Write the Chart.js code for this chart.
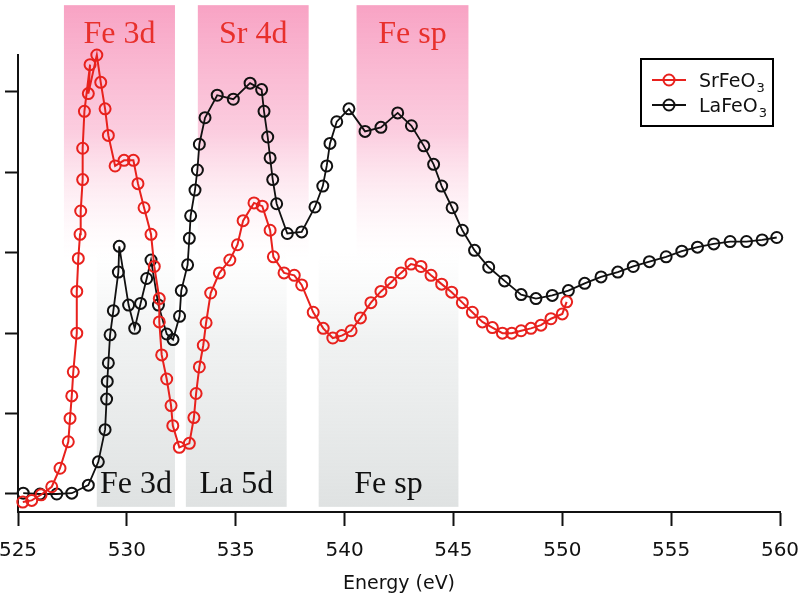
<!DOCTYPE html>
<html>
<head>
<meta charset="utf-8">
<script src="https://cdn.jsdelivr.net/npm/chart.js@4"></script>
<style>
  html, body { margin: 0; padding: 0; background: #fff; }
</style>
</head>
<body>
<canvas id="xas" width="802" height="596"></canvas>
<script>
// O K-edge spectra, energy (eV) vs intensity (arb. units)
const SR_E = [525.22, 525.63, 526.06, 526.55, 526.93, 527.31, 527.39, 527.47, 527.54, 527.70,
              527.70, 527.77, 527.85, 527.88, 527.97, 527.97, 528.05, 528.31, 528.23, 528.62,
              528.80, 529.00, 529.15, 529.46, 529.87, 530.30, 530.51, 530.79, 531.11, 531.26,
              531.49, 531.49, 531.60, 531.83, 532.03, 532.11, 532.41, 532.87, 533.08, 533.18,
              533.33, 533.51, 533.64, 533.85, 534.25, 534.73, 535.08, 535.34, 535.84, 536.22,
              536.58, 536.73, 537.22, 537.69, 538.03, 538.56, 539.02, 539.46, 539.87, 540.30,
              540.73, 541.21, 541.67, 542.13, 542.59, 543.05, 543.51, 543.97, 544.46, 544.92,
              545.41, 545.87, 546.33, 546.79, 547.25, 547.68, 548.11, 548.56, 549.02, 549.48,
              550.00, 550.20];
const SR_I = [-0.10, -0.08, -0.01, 0.09, 0.32, 0.65, 0.94, 1.22, 1.52, 2.00,
              2.52, 2.93, 3.23, 3.52, 3.91, 4.30, 4.76, 5.34, 4.98, 5.46,
              5.12, 4.79, 4.46, 4.08, 4.15, 4.15, 3.86, 3.56, 3.23, 2.83,
              2.43, 2.14, 1.73, 1.43, 1.10, 0.85, 0.58, 0.63, 0.95, 1.25,
              1.58, 1.85, 2.13, 2.50, 2.75, 2.91, 3.10, 3.40, 3.62, 3.58,
              3.28, 2.95, 2.75, 2.72, 2.60, 2.26, 2.06, 1.94, 1.97, 2.03,
              2.19, 2.38, 2.52, 2.63, 2.75, 2.86, 2.83, 2.72, 2.61, 2.51,
              2.38, 2.26, 2.14, 2.07, 2.00, 2.00, 2.03, 2.06, 2.10, 2.18,
              2.24, 2.39];

const LA_E = [525.24, 526.01, 526.78, 527.47, 528.23, 528.69, 529.00, 529.07, 529.10, 529.15,
              529.23, 529.38, 529.61, 529.65, 530.08, 530.36, 530.63, 530.91, 531.11, 531.45,
              531.83, 532.12, 532.42, 532.50, 532.79, 532.87, 532.93, 533.13, 533.24, 533.33,
              533.59, 534.15, 534.89, 535.66, 536.19, 536.30, 536.47, 536.58, 536.70, 536.88,
              537.37, 538.03, 538.64, 539.00, 539.18, 539.33, 539.64, 540.20, 540.94, 541.67,
              542.44, 543.07, 543.64, 544.09, 544.46, 544.94, 545.41, 545.97, 546.62, 547.35,
              548.11, 548.79, 549.54, 550.28, 551.03, 551.78, 552.55, 553.26, 554.00, 554.77,
              555.49, 556.21, 556.96, 557.71, 558.46, 559.18, 559.85];
const LA_I = [0.01, 0.00, 0.00, 0.01, 0.11, 0.40, 0.80, 1.18, 1.40, 1.63,
              1.98, 2.28, 2.76, 3.08, 2.35, 2.06, 2.37, 2.68, 2.91, 2.35,
              1.99, 1.92, 2.21, 2.53, 2.85, 3.18, 3.46, 3.78, 4.03, 4.35,
              4.68, 4.96, 4.91, 5.11, 5.03, 4.76, 4.44, 4.18, 3.91, 3.61,
              3.24, 3.26, 3.57, 3.83, 4.08, 4.36, 4.63, 4.79, 4.51, 4.56,
              4.74, 4.58, 4.33, 4.10, 3.83, 3.56, 3.28, 3.03, 2.82, 2.65,
              2.48, 2.43, 2.47, 2.53, 2.62, 2.70, 2.76, 2.83, 2.89, 2.95,
              3.02, 3.07, 3.11, 3.14, 3.14, 3.16, 3.19];

const X_TICKS = [525, 530, 535, 540, 545, 550, 555, 560];
const Y_TICKS = [0, 1, 2, 3, 4, 5];
const Y_MIN = -0.224, Y_MAX = 5.46;

// shaded orbital regions: [from, to] in eV
const TOP_BANDS = [[527.11, 532.21], [533.26, 538.35], [540.55, 545.69]];
const TOP_LABELS = ['Fe 3d', 'Sr 4d', 'Fe sp'];
const BOTTOM_BANDS = [[528.62, 532.21], [532.71, 537.34], [538.81, 545.23]];
const BOTTOM_LABELS = ['Fe 3d', 'La 5d', 'Fe sp'];
const TOP_BAND_Y = [6.08, 2.9];      // top edge, fade-out level
const BOTTOM_BAND_Y = [3.0, -0.16];  // fade-in level, bottom edge

const RED = '#e8211d';
const RED_TEXT = '#e8302c';
const SERIES = ['SrFeO', 'LaFeO'];

const bandsPlugin = {
    id: 'bands',
    beforeDraw(chart) {
        const {ctx, scales: {x, y}} = chart;
        ctx.save();
        const t0 = y.getPixelForValue(TOP_BAND_Y[0]), t1 = y.getPixelForValue(TOP_BAND_Y[1]);
        const pink = ctx.createLinearGradient(0, t0, 0, t1);
        pink.addColorStop(0, 'rgba(248,163,196,1)');
        pink.addColorStop(0.5, 'rgba(251,200,220,0.9)');
        pink.addColorStop(1, 'rgba(255,240,245,0)');
        ctx.fillStyle = pink;
        TOP_BANDS.forEach(([a, b]) => {
            const xa = x.getPixelForValue(a), xb = x.getPixelForValue(b);
            ctx.fillRect(xa, t0, xb - xa, t1 - t0);
        });
        const b0 = y.getPixelForValue(BOTTOM_BAND_Y[0]), b1 = y.getPixelForValue(BOTTOM_BAND_Y[1]);
        const grey = ctx.createLinearGradient(0, b0, 0, b1);
        grey.addColorStop(0, 'rgba(240,242,242,0)');
        grey.addColorStop(0.35, 'rgba(236,238,238,0.8)');
        grey.addColorStop(1, 'rgba(223,226,226,1)');
        ctx.fillStyle = grey;
        BOTTOM_BANDS.forEach(([a, b]) => {
            const xa = x.getPixelForValue(a), xb = x.getPixelForValue(b);
            ctx.fillRect(xa, b0, xb - xa, b1 - b0);
        });
        ctx.restore();
    },
    afterDraw(chart) {
        const {ctx, scales: {x, y}} = chart;
        ctx.save();
        ctx.font = '32px "Liberation Serif"';
        ctx.textAlign = 'center';
        ctx.textBaseline = 'alphabetic';
        const t0 = y.getPixelForValue(TOP_BAND_Y[0]);
        ctx.fillStyle = RED_TEXT;
        TOP_BANDS.forEach(([a, b], i) => {
            ctx.fillText(TOP_LABELS[i], (x.getPixelForValue(a) + x.getPixelForValue(b)) / 2, t0 + 38);
        });
        const b1 = y.getPixelForValue(BOTTOM_BAND_Y[1]);
        ctx.fillStyle = '#111';
        BOTTOM_BANDS.forEach(([a, b], i) => {
            ctx.fillText(BOTTOM_LABELS[i], (x.getPixelForValue(a) + x.getPixelForValue(b)) / 2, b1 - 14);
        });
        ctx.restore();
    }
};

// legend with subscript, top right
const legendPlugin = {
    id: 'subLegend',
    afterDraw(chart) {
        const {ctx} = chart;
        const left = 641, top = 59, w = 132, h = 67;
        ctx.save();
        ctx.fillStyle = '#fff';
        ctx.fillRect(left, top, w, h);
        ctx.lineWidth = 2;
        ctx.strokeStyle = '#000';
        ctx.strokeRect(left, top, w, h);
        chart.data.datasets.forEach((ds, i) => {
            const cy = top + 21 + i * 25;
            ctx.strokeStyle = ds.borderColor;
            ctx.lineWidth = ds.borderWidth;
            ctx.beginPath();
            ctx.moveTo(left + 11, cy);
            ctx.lineTo(left + 45, cy);
            ctx.stroke();
            ctx.lineWidth = ds.pointBorderWidth;
            ctx.beginPath();
            ctx.arc(left + 28, cy, ds.pointRadius, 0, Math.PI * 2);
            ctx.stroke();
            ctx.fillStyle = '#111';
            ctx.textBaseline = 'alphabetic';
            ctx.font = '19px "DejaVu Sans"';
            ctx.fillText(SERIES[i], left + 58, cy + 7);
            const wMain = ctx.measureText(SERIES[i]).width;
            ctx.font = '13px "DejaVu Sans"';
            ctx.fillText('3', left + 58 + wMain + 1, cy + 12);
        });
        ctx.restore();
    }
};

function series(es, is, color, width) {
    return {
        data: es.map((e, i) => ({x: e, y: is[i]})),
        borderColor: color,
        borderWidth: width,
        pointRadius: 5.5,
        pointBorderWidth: 2,
        pointBorderColor: color,
        pointBackgroundColor: 'rgba(0,0,0,0)',
        tension: 0,
        clip: false
    };
}

new Chart(document.getElementById('xas'), {
    type: 'line',
    data: {
        datasets: [
            series(SR_E, SR_I, RED, 2),
            series(LA_E, LA_I, '#111', 1.8)
        ]
    },
    options: {
        responsive: false,
        animation: false,
        layout: {padding: {left: 5, top: 55, right: 22, bottom: 0}},
        plugins: {legend: {display: false}, tooltip: {enabled: false}},
        scales: {
            x: {
                type: 'linear',
                min: 525,
                max: 560,
                afterBuildTicks: s => { s.ticks = X_TICKS.map(v => ({value: v})); },
                afterFit: s => { s.height = 84; s.paddingLeft = 0; s.paddingRight = 0; },
                border: {display: true, color: '#111', width: 2},
                grid: {drawOnChartArea: false, drawTicks: true, tickLength: 14, tickColor: '#111', tickWidth: 2},
                ticks: {color: '#111', font: {family: 'DejaVu Sans', size: 20}, padding: 13, maxRotation: 0},
                title: {display: true, text: 'Energy (eV)', color: '#111',
                        font: {family: 'DejaVu Sans', size: 19}, padding: {top: 0, bottom: 1}}
            },
            y: {
                min: Y_MIN,
                max: Y_MAX,
                afterBuildTicks: s => { s.ticks = Y_TICKS.map(v => ({value: v})); },
                afterFit: s => { s.width = 13; },
                border: {display: true, color: '#111', width: 2},
                grid: {drawOnChartArea: false, drawTicks: true, tickLength: 13, tickColor: '#111', tickWidth: 2},
                ticks: {display: false}
            }
        }
    },
    plugins: [bandsPlugin, legendPlugin]
});
</script>
</body>
</html>
